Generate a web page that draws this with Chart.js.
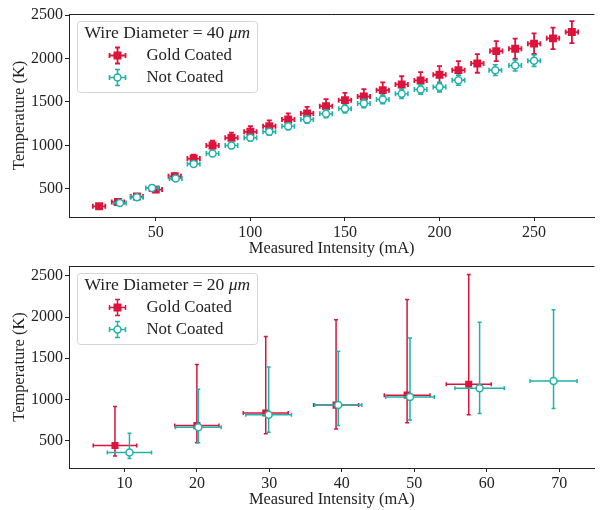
<!DOCTYPE html>
<html lang="en">
<head>
  <meta charset="UTF-8">
  <title>Wire temperature vs measured intensity</title>
  <style>
    body { margin: 0; padding: 0; background: #fff; }
    .panel { position: relative; width: 600px; }
    #p40 { height: 260px; }
    #p20 { height: 250px; }
  </style>
</head>
<body>
  <div class="panel" id="p40"><canvas id="wire40"></canvas></div>
  <div class="panel" id="p20"><canvas id="wire20"></canvas></div>

  <script src="https://cdn.jsdelivr.net/npm/chart.js"></script>
  <script>
    // ---- 40 um wire (top panel) ----
    const gold40X = [20, 30, 40, 50, 60, 70, 80, 90, 100, 110, 120, 130, 140, 150, 160, 170, 180, 190, 200, 210, 220, 230, 240, 250, 260, 270];
    const gold40T = [300, 350, 412, 492, 645, 849, 999, 1088, 1157, 1221, 1298, 1368, 1452, 1521, 1563, 1636, 1702, 1748, 1813, 1866, 1943, 2085, 2113, 2171, 2232, 2304];
    const gold40Terr = [16, 19, 22, 27, 35, 46, 55, 60, 64, 67, 71, 75, 80, 84, 86, 90, 94, 96, 100, 103, 107, 115, 116, 119, 123, 127];
    const notc40X = [31, 40, 48, 60.5, 70, 80, 90, 100, 110, 120, 130, 140, 150, 160, 170, 180, 190, 200, 210, 229.5, 240, 250];
    const notc40T = [339, 403, 512, 619, 788, 907, 999, 1088, 1157, 1221, 1298, 1364, 1422, 1483, 1529, 1594, 1644, 1671, 1751, 1866, 1920, 1975];
    const notc40Terr = [11, 13, 17, 20, 26, 30, 33, 36, 38, 40, 43, 45, 47, 49, 50, 53, 54, 55, 58, 62, 64, 66];
    const xErr40 = 3.3;
    const xTicks40 = [50, 100, 150, 200, 250];

    // ---- 20 um wire (bottom panel), asymmetric temperature errors ----
    const gold20X = [8.7, 20.0, 29.5, 39.2, 49.0, 57.5];
    const gold20T = [440, 681, 834, 930, 1051, 1183];
    const gold20Tmin = [311, 472, 581, 641, 717, 813];
    const gold20Tmax = [913, 1424, 1765, 1966, 2214, 2516];
    const gold20Xerr = [3.0, 3.05, 3.1, 3.1, 3.15, 3.1];
    const notc20X = [10.7, 20.2, 29.9, 39.5, 49.4, 59.0, 69.2];
    const notc20T = [355, 660, 813, 930, 1030, 1135, 1223];
    const notc20Tmin = [280, 472, 600, 681, 749, 829, 889];
    const notc20Tmax = [588, 1123, 1392, 1584, 1745, 1937, 2087];
    const notc20Xerr = [3.05, 3.15, 3.15, 3.25, 3.35, 3.4, 3.25];
    const xTicks20 = [10, 20, 30, 40, 50, 60, 70];

    const yTicks = [500, 1000, 1500, 2000, 2500];

    const RED = '#DC143C';
    const TEAL = '#20B2AA';
    const INK = '#222';
    const FAMILY = '"Liberation Serif", "DejaVu Serif", serif';

    // draws x/y error bars of a dataset right before its markers
    const errorBars = {
      id: 'errorBars',
      beforeDatasetDraw(chart, args) {
        const ds = chart.data.datasets[args.index];
        if (!ds.err) return;
        const xs = chart.scales.x, ys = chart.scales.y, ctx = chart.ctx;
        const cap = ds.capSize;
        ctx.save();
        ctx.strokeStyle = ds.borderColor;
        ctx.lineWidth = ds.errWidth;
        ds.data.forEach((p, i) => {
          const e = ds.err[i];
          const px = xs.getPixelForValue(p.x), py = ys.getPixelForValue(p.y);
          const x0 = xs.getPixelForValue(e.x0), x1 = xs.getPixelForValue(e.x1);
          const y0 = ys.getPixelForValue(e.y0), y1 = ys.getPixelForValue(e.y1);
          ctx.beginPath();
          ctx.moveTo(x0, py); ctx.lineTo(x1, py);
          ctx.moveTo(px, y0); ctx.lineTo(px, y1);
          ctx.moveTo(x0, py - cap); ctx.lineTo(x0, py + cap);
          ctx.moveTo(x1, py - cap); ctx.lineTo(x1, py + cap);
          ctx.moveTo(px - cap, y0); ctx.lineTo(px + cap, y0);
          ctx.moveTo(px - cap, y1); ctx.lineTo(px + cap, y1);
          ctx.stroke();
        });
        ctx.restore();
      }
    };

    // top spine + legend box with italic unit in title
    const frameAndLegend = {
      id: 'frameAndLegend',
      afterDraw(chart, args, opts) {
        const { ctx, chartArea } = chart;
        ctx.save();
        ctx.strokeStyle = INK;
        ctx.lineWidth = 1;
        ctx.beginPath();
        ctx.moveTo(chartArea.left, chartArea.top + 0.5);
        ctx.lineTo(chartArea.right, chartArea.top + 0.5);
        ctx.stroke();

        const x = chartArea.left + 8.5, y = chartArea.top + 7.5, w = 180, h = 71;
        ctx.beginPath();
        ctx.roundRect(x, y, w, h, 3);
        ctx.fillStyle = 'rgba(255,255,255,0.8)';
        ctx.fill();
        ctx.strokeStyle = '#d4d4d4';
        ctx.stroke();

        ctx.fillStyle = INK;
        ctx.textBaseline = 'middle';
        ctx.font = '17.5px ' + FAMILY;
        const head = opts.title;
        ctx.fillText(head, x + 7, y + 12);
        const hw = ctx.measureText(head).width;
        ctx.font = 'italic 17.5px ' + FAMILY;
        ctx.fillText('\u03BCm', x + 7 + hw, y + 12);

        chart.data.datasets.forEach((ds, i) => {
          const cx = x + 40, cy = y + 34 + i * 22;
          const cap = 2.5;
          ctx.strokeStyle = ds.borderColor;
          ctx.lineWidth = ds.errWidth;
          ctx.beginPath();
          ctx.moveTo(cx - 8, cy); ctx.lineTo(cx + 8, cy);
          ctx.moveTo(cx, cy - 8); ctx.lineTo(cx, cy + 8);
          ctx.moveTo(cx - 8, cy - cap); ctx.lineTo(cx - 8, cy + cap);
          ctx.moveTo(cx + 8, cy - cap); ctx.lineTo(cx + 8, cy + cap);
          ctx.moveTo(cx - cap, cy - 8); ctx.lineTo(cx + cap, cy - 8);
          ctx.moveTo(cx - cap, cy + 8); ctx.lineTo(cx + cap, cy + 8);
          ctx.stroke();
          if (ds.pointStyle === 'rect') {
            ctx.fillStyle = ds.backgroundColor;
            ctx.fillRect(cx - 4, cy - 4, 8, 8);
          } else {
            ctx.beginPath();
            ctx.arc(cx, cy, ds.pointRadius, 0, Math.PI * 2);
            ctx.fillStyle = ds.backgroundColor;
            ctx.fill();
            ctx.lineWidth = ds.borderWidth;
            ctx.strokeStyle = ds.borderColor;
            ctx.stroke();
          }
          ctx.fillStyle = INK;
          ctx.font = '16.8px ' + FAMILY;
          ctx.fillText(ds.label, x + 69, cy);
        });
        ctx.restore();
      }
    };

    function points(xs, ys) {
      return xs.map((x, i) => ({ x: x, y: ys[i] }));
    }

    function makeChart(id, cfg) {
      const xTickFont = { family: FAMILY, size: 16 };
      // small lineHeight so the top label does not push the plot area down
      const yTickFont = { family: FAMILY, size: 16, lineHeight: 0.5 };
      const titleFont = { family: FAMILY, size: 16.4, lineHeight: 1 };
      return new Chart(document.getElementById(id), {
        type: 'scatter',
        data: { datasets: cfg.datasets },
        options: {
          responsive: true,
          maintainAspectRatio: false,
          animation: false,
          layout: { padding: { top: cfg.padTop, right: 0, left: 0, bottom: 0 } },
          plugins: {
            legend: { display: false },
            tooltip: { enabled: false },
            frameAndLegend: { title: cfg.legendTitle }
          },
          scales: {
            x: {
              type: 'linear',
              min: cfg.xMin, max: cfg.xMax,
              afterBuildTicks: s => { s.ticks = cfg.xTicks.map(v => ({ value: v })); },
              ticks: { autoSkip: false, maxRotation: 0, color: INK, font: xTickFont, padding: 2, callback: v => String(v) },
              grid: { drawOnChartArea: false, tickLength: 4, color: INK },
              border: { color: INK, width: 1 },
              title: { display: true, text: 'Measured Intensity (mA)', color: INK, font: titleFont, padding: { top: 0, bottom: cfg.xTitlePad } },
              afterFit: s => { s.height = cfg.xAxisHeight; }
            },
            y: {
              type: 'linear',
              min: cfg.yMin, max: cfg.yMax,
              afterBuildTicks: s => { s.ticks = yTicks.map(v => ({ value: v })); },
              ticks: { autoSkip: false, color: INK, font: yTickFont, padding: 2, callback: v => String(v) },
              grid: { drawOnChartArea: false, tickLength: 4, color: INK },
              border: { color: INK, width: 1 },
              title: { display: true, text: 'Temperature (K)', color: INK, font: titleFont, padding: { top: 12, bottom: 0 } },
              afterFit: s => { s.width = 69; }
            }
          }
        },
        plugins: [errorBars, frameAndLegend]
      });
    }

    makeChart('wire40', {
      legendTitle: 'Wire Diameter = 40 ',
      padTop: 14, xAxisHeight: 43, xTitlePad: 3.5,
      xMin: 4.1, xMax: 281.9, xTicks: xTicks40, yMin: 177, yMax: 2512,
      datasets: [
        {
          label: 'Gold Coated',
          data: points(gold40X, gold40T),
          err: gold40X.map((x, i) => ({ x0: x - xErr40, x1: x + xErr40, y0: gold40T[i] - gold40Terr[i], y1: gold40T[i] + gold40Terr[i] })),
          pointStyle: 'rect', pointRadius: 5.6, borderWidth: 0,
          backgroundColor: RED, borderColor: RED,
          errWidth: 1.8, capSize: 2.5, order: 2
        },
        {
          label: 'Not Coated',
          data: points(notc40X, notc40T),
          err: notc40X.map((x, i) => ({ x0: x - xErr40, x1: x + xErr40, y0: notc40T[i] - notc40Terr[i], y1: notc40T[i] + notc40Terr[i] })),
          pointStyle: 'circle', pointRadius: 3.5, borderWidth: 1.5,
          backgroundColor: '#fff', borderColor: TEAL,
          errWidth: 1.6, capSize: 2.5, order: 1
        }
      ]
    });

    makeChart('wire20', {
      legendTitle: 'Wire Diameter = 20 ',
      padTop: 4, xAxisHeight: 42, xTitlePad: 2,
      xMin: 2.36, xMax: 74.85, xTicks: xTicks20, yMin: 166, yMax: 2620,
      datasets: [
        {
          label: 'Gold Coated',
          data: points(gold20X, gold20T),
          err: gold20X.map((x, i) => ({ x0: x - gold20Xerr[i], x1: x + gold20Xerr[i], y0: gold20Tmin[i], y1: gold20Tmax[i] })),
          pointStyle: 'rect', pointRadius: 5, borderWidth: 0,
          backgroundColor: RED, borderColor: RED,
          errWidth: 1.5, capSize: 2, order: 2
        },
        {
          label: 'Not Coated',
          data: points(notc20X, notc20T),
          err: notc20X.map((x, i) => ({ x0: x - notc20Xerr[i], x1: x + notc20Xerr[i], y0: notc20Tmin[i], y1: notc20Tmax[i] })),
          pointStyle: 'circle', pointRadius: 3.5, borderWidth: 1.5,
          backgroundColor: '#fff', borderColor: TEAL,
          errWidth: 1.5, capSize: 2, order: 1
        }
      ]
    });
  </script>
</body>
</html>
